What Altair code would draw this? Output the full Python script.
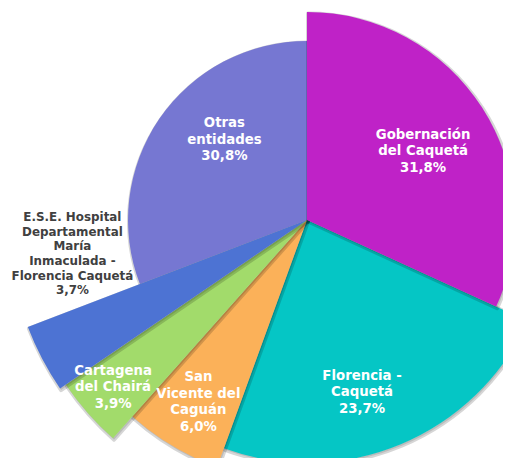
import json
import math
import altair as alt
import pandas as pd

# ---- data ----
entidades = [
    "Gobernación del Caquetá",
    "Florencia - Caquetá",
    "San Vicente del Caguán",
    "Cartagena del Chairá",
    "E.S.E. Hospital Departamental María Inmaculada - Florencia Caquetá",
    "Otras entidades",
]
etiquetas = [
    "Gobernación\ndel Caquetá",
    "Florencia -\nCaquetá",
    "San\nVicente del\nCaguán",
    "Cartagena\ndel Chairá",
    "E.S.E. Hospital\nDepartamental\nMaría\nInmaculada -\nFlorencia Caquetá",
    "Otras\nentidades",
]
porcentajes = [31.8, 23.7, 6.0, 3.9, 3.7, 30.8]

# ---- styling ----
colores = ["#BF22C7", "#05C6C5", "#FBB159", "#A2DB6B", "#4D73D3", "#7677D2"]
radios = [208, 243, 263, 292, 299, 179]            # outer radius per slice (px)
radio_etiqueta = [135, 181, 212, 256, 237, 115]    # label distance from centre
giro_etiqueta = [2, 5, 0, 0.6, 19.5, 9.6]          # label angle shift (deg)
interlinea = [16.5, 16.5, 16.5, 16.5, 14.7, 16.5]
orden_dibujo = [1, 5, 2, 3, 4, 0]                  # stacking order of slices
CX, CY = 299, 212
W, H = 495, 450

textos = [
    f"{e}\n{str(format(p, '.1f')).replace('.', ',')}%"
    for e, p in zip(etiquetas, porcentajes)
]
df = pd.DataFrame({
    "orden": list(range(len(entidades))),
    "entidad": entidades,
    "valor": porcentajes,
    "texto": textos,
})

arr = lambda v: json.dumps(v) + "[datum.orden]"

base = alt.Chart(df).transform_joinaggregate(
    total="sum(valor)"
).transform_window(
    acum="sum(valor)", sort=[alt.SortField("orden")], frame=[None, 0]
).transform_calculate(
    t0="2*PI*(datum.acum - datum.valor)/datum.total",
    t1="2*PI*datum.acum/datum.total",
    r=arr(radios),
).transform_calculate(
    tm=f"(datum.t0 + datum.t1)/2 + {arr(giro_etiqueta)}*PI/180",
    lr=arr(radio_etiqueta),
    nl="split(datum.texto, '\\n').length",
).transform_calculate(
    lx=f"{CX} + datum.lr*sin(datum.tm)",
    ly=f"{CY} - datum.lr*cos(datum.tm) - (datum.nl - 1)*{arr(interlinea)}/2",
)

capas = []
for i in orden_dibujo:
    sub = base.transform_filter(f"datum.orden == {i}")
    capas.append(
        sub.mark_arc(fill="#000000", fillOpacity=0.12, stroke="#000000",
                     strokeOpacity=0.16, strokeWidth=4, strokeJoin="round").encode(
            x=alt.value(CX + 1),
            y=alt.value(CY + 1.5),
            theta=alt.Theta("t0:Q", scale=None),
            theta2=alt.Theta2("t1:Q"),
            radius=alt.Radius("r:Q", scale=None),
        )
    )
    capas.append(
        sub.mark_arc().encode(
            x=alt.value(CX),
            y=alt.value(CY),
            theta=alt.Theta("t0:Q", scale=None),
            theta2=alt.Theta2("t1:Q"),
            radius=alt.Radius("r:Q", scale=None),
            color=alt.Color("entidad:N",
                            scale=alt.Scale(domain=entidades, range=colores),
                            legend=None),
        )
    )

txt_in = base.transform_filter("datum.orden != 4").mark_text(
    font="DejaVu Sans", fontWeight="bold", fontSize=13.3, lineHeight=16.5,
    lineBreak="\n", color="white", align="center", baseline="middle",
).encode(
    x=alt.X("lx:Q", scale=None),
    y=alt.Y("ly:Q", scale=None),
    text="texto:N",
)

txt_out = base.transform_filter("datum.orden == 4").mark_text(
    font="DejaVu Sans", fontWeight="bold", fontSize=11.9, lineHeight=14.7,
    lineBreak="\n", color="#404040", align="center", baseline="middle",
).encode(
    x=alt.X("lx:Q", scale=None),
    y=alt.Y("ly:Q", scale=None),
    text="texto:N",
)

chart = alt.layer(*capas, txt_in, txt_out).properties(
    width=W, height=H, padding=0, autosize=alt.AutoSizeParams(type="none"),
    background="white",
).configure_view(stroke=None)

chart.save("out.html", embed_options={"renderer": "svg", "actions": False})
